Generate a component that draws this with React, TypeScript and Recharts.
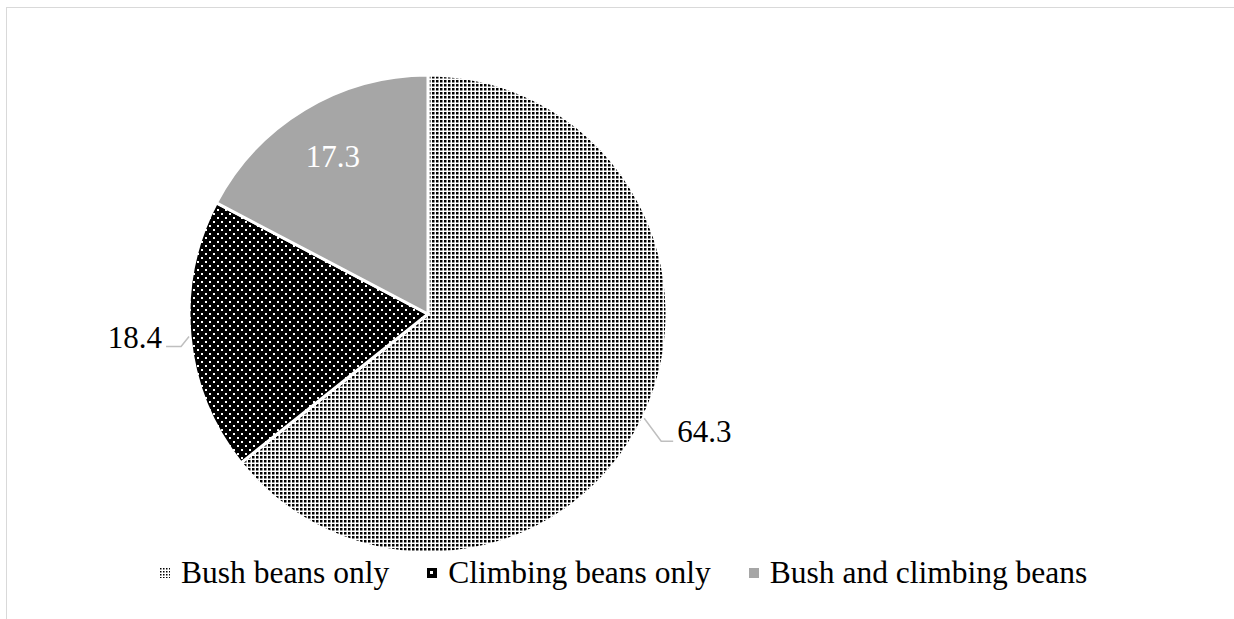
import React from 'react';
import { PieChart, Pie, Cell, Legend } from 'recharts';

const categories = ['Bush beans only', 'Climbing beans only', 'Bush and climbing beans'];
const shares = [64.3, 18.4, 17.3];
const fills = ['url(#bushDots)', 'url(#climbDots)', '#a6a6a6'];

const FONT = "'Liberation Serif', 'Times New Roman', serif";
const RAD = Math.PI / 180;

const pieData = categories.map((name, i) => ({ name, value: shares[i] }));

// Excel-like labels: inside for the grey slice, leader lines for the others
function renderLabel(props: any) {
  const { cx, cy, midAngle, outerRadius, index, value } = props;
  const cos = Math.cos(-midAngle * RAD);
  const sin = Math.sin(-midAngle * RAD);

  if (index === 2) {
    const r = outerRadius * 0.77;
    return (
      <text x={cx + r * cos} y={cy + r * sin} fill="#fff" fontSize={31} fontFamily={FONT}
        textAnchor="middle" dominantBaseline="central">
        {value}
      </text>
    );
  }

  const sx = cx + (outerRadius + 1) * cos;
  const sy = cy + (outerRadius + 1) * sin;
  const right = cos >= 0;
  const ex = sx + (right ? 17 : -8);
  const ey = sy + (right ? 23 : 10);
  const hx = ex + (right ? 12 : -15);
  return (
    <g>
      <path d={`M${sx},${sy}L${ex},${ey}L${hx},${ey}`} stroke="#bfbfbf" strokeWidth={1.5} fill="none" />
      <text x={hx + (right ? 4 : -4)} y={ey + 1} fill="#000" fontSize={31} fontFamily={FONT}
        textAnchor={right ? 'start' : 'end'}>
        {value}
      </text>
    </g>
  );
}

function Marker({ index }: { index: number }) {
  return (
    <svg width={10} height={10} style={{ display: 'block' }}>
      <defs>
        <pattern id="lgBush" width={3} height={3} patternUnits="userSpaceOnUse">
          <rect width={3} height={3} fill="#fff" />
          <rect width={1.5} height={1.5} fill="#000" />
        </pattern>
      </defs>
      {index === 0 && <rect width={10} height={10} fill="url(#lgBush)" />}
      {index === 1 && (
        <g>
          <rect width={10} height={10} fill="#000" />
          <rect x={3} y={3} width={3} height={3} fill="#fff" />
        </g>
      )}
      {index === 2 && <rect width={10} height={10} fill="#a6a6a6" />}
    </svg>
  );
}

function LegendContent() {
  return (
    <div style={{ display: 'flex', alignItems: 'center', fontFamily: FONT, fontSize: 31.5, lineHeight: '32px', color: '#000' }}>
      {categories.map((c, i) => (
        <div key={c} style={{ display: 'flex', alignItems: 'center', marginRight: 38 }}>
          <Marker index={i} />
          <span style={{ marginLeft: 11, whiteSpace: 'nowrap' }}>{c}</span>
        </div>
      ))}
    </div>
  );
}

export default function App() {
  return (
    <div style={{ position: 'fixed', left: 0, top: 0, width: 1234, height: 619, overflow: 'hidden', background: '#fff' }}>
      <div style={{ position: 'absolute', left: 6, top: 7, width: 1400, height: 800, border: '1.5px solid #d9d9d9' }} />
      <div style={{ position: 'absolute', left: 0, top: 0 }}>
        <PieChart width={1234} height={619} margin={{ top: 0, right: 0, bottom: 0, left: 0 }}>
          <defs>
            <pattern id="bushDots" width={4} height={4} patternUnits="userSpaceOnUse">
              <rect width={4} height={4} fill="#fff" />
              <rect width={2.5} height={2.5} fill="#000" />
            </pattern>
            <pattern id="climbDots" width={8} height={8} patternUnits="userSpaceOnUse">
              <rect width={8} height={8} fill="#000" />
              <rect x={1} y={1} width={2} height={2} fill="#fff" />
              <rect x={5} y={5} width={2} height={2} fill="#fff" />
            </pattern>
          </defs>
          <Pie
            data={pieData}
            dataKey="value"
            nameKey="name"
            cx={428}
            cy={314}
            outerRadius={239}
            startAngle={90}
            endAngle={-270}
            stroke="#fff"
            strokeWidth={3}
            label={renderLabel}
            labelLine={false}
            isAnimationActive={false}
          >
            {pieData.map((d, i) => (
              <Cell key={d.name} fill={fills[i]} />
            ))}
          </Pie>
          <Legend
            content={LegendContent}
            wrapperStyle={{ position: 'absolute', top: 557, left: 160, width: 'auto', bottom: 'auto' }}
          />
        </PieChart>
      </div>
    </div>
  );
}
